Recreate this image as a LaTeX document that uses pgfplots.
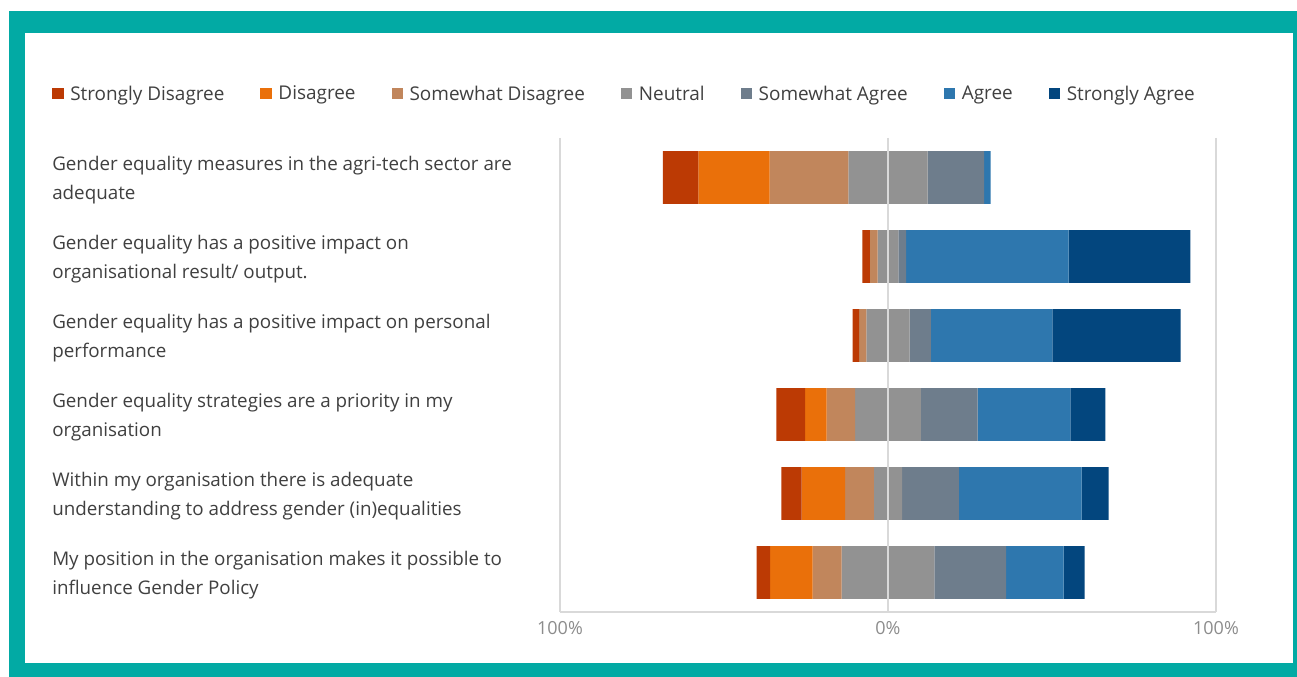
\documentclass[border=0pt]{standalone}
\usepackage{fontspec}
\setmainfont{Open Sans}
\usepackage{pgfplots}
\pgfplotsset{compat=1.18}
\usepackage{pgfplotstable}

\definecolor{cSD}{HTML}{BC3A04}
\definecolor{cD}{HTML}{EA700A}
\definecolor{cSwD}{HTML}{C1865C}
\definecolor{cN}{HTML}{929292}
\definecolor{cSwA}{HTML}{6E7D8C}
\definecolor{cA}{HTML}{2E77AE}
\definecolor{cSA}{HTML}{03467E}
\definecolor{teal}{HTML}{02AAA4}
\definecolor{gridcol}{HTML}{D9D9D9}
\definecolor{labcol}{HTML}{404040}
\definecolor{tickcol}{HTML}{8C8C8C}

% x axis runs 0..200 with 100 = 0%; "off" is the blank part left of each bar
\pgfplotstableread{
id off SD D SwD N SwA A SA
0 31.4 10.8 21.7 24.0 24.2 17.2 2.0 0
1 92.2 2.3 0 2.3 6.4 2.3 49.6 37.1
2 89.2 2.0 0 2.2 13.2 6.5 37.0 39.1
3 66.0 8.7 6.6 8.7 20.0 17.3 28.3 10.7
4 67.5 6.2 13.2 8.8 8.6 17.3 37.4 8.3
5 59.95 4.1 13.0 8.8 28.3 21.9 17.5 6.4
}\data

\begin{document}
\begin{tikzpicture}
% frame
\fill[white] (0pt,0pt) rectangle (972.75pt,507.75pt);
\fill[teal] (6.75pt,0pt) rectangle (972.75pt,499.5pt);
\fill[white] (18.75pt,10.5pt) rectangle (969.75pt,483pt);
\begin{axis}[
  at={(420pt,48.75pt)}, anchor=south west,
  scale only axis, width=492pt, height=355.5pt,
  xbar stacked, bar width=0.67,
  xmin=0, xmax=200, ymin=-0.5, ymax=5.5,
  y dir=reverse,
  xtick={0,100,200}, xticklabels={100\%,0\%,100\%},
  ytick={0,...,5},
  yticklabels={
    {Gender equality measures in the agri-tech sector are\\adequate},
    {Gender equality has a positive impact on\\organisational result/ output.},
    {Gender equality has a positive impact on personal\\performance},
    {Gender equality strategies are a priority in my\\organisation},
    {Within my organisation there is adequate\\understanding to address gender (in)equalities},
    {My position in the organisation makes it possible to\\influence Gender Policy}},
  yticklabel style={anchor=west, align=left, inner sep=0pt, xshift=-381pt, yshift=-2pt,
    font=\fontsize{14.1}{21.75}\selectfont, text=labcol},
  xticklabel style={font=\fontsize{13.5}{16}\selectfont, text=tickcol, inner sep=0pt, yshift=-7pt},
  major tick length=0pt,
  axis x line*=bottom, axis y line*=left,
  y axis line style={draw=none},
  x axis line style={draw=gridcol, line width=1pt},
  xmajorgrids, grid style={draw=gridcol, line width=1pt},
  axis on top,
  legend columns=7,
  legend style={at={(-0.7744,1.0928)}, anchor=west, draw=none, fill=none,
    inner sep=0pt, font=\fontsize{14.2}{16}\selectfont, text=labcol,
    nodes={inner xsep=5pt, inner ysep=0pt},
    /tikz/every even column/.append style={column sep=22pt}},
  legend image code/.code={\fill[#1] (0pt,-4pt) rectangle (8.5pt,4.5pt);},
]
\addplot[draw=none, fill=none] table[y=id, x=off] {\data};
\addplot[fill=cSD, draw=none] table[y=id, x=SD] {\data};
\addplot[fill=cD, draw=none] table[y=id, x=D] {\data};
\addplot[fill=cSwD, draw=none] table[y=id, x=SwD] {\data};
\addplot[fill=cN, draw=none] table[y=id, x=N] {\data};
\addplot[fill=cSwA, draw=none] table[y=id, x=SwA] {\data};
\addplot[fill=cA, draw=none] table[y=id, x=A] {\data};
\addplot[fill=cSA, draw=none] table[y=id, x=SA] {\data};
\legend{,Strongly Disagree, Disagree, Somewhat Disagree, Neutral, Somewhat Agree, Agree, Strongly Agree}
\end{axis}
\end{tikzpicture}
\end{document}
